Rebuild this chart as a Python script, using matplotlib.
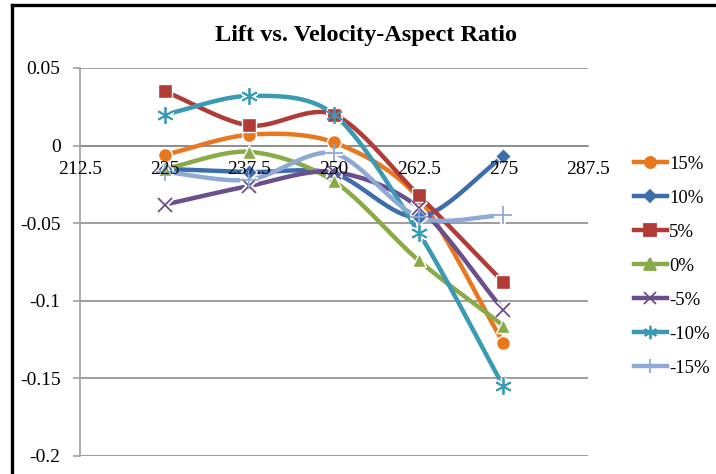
import numpy as np
import matplotlib
matplotlib.use("Agg")
import matplotlib.pyplot as plt
from matplotlib.lines import Line2D

plt.rcParams['font.family'] = ['Liberation Serif', 'DejaVu Serif']

velocity = [225, 237.5, 250, 262.5, 275]
labels = ['15%', '10%', '5%', '0%', '-5%', '-10%', '-15%']
lift_15 = [-0.006, 0.007, 0.002, -0.034, -0.127]
lift_10 = [-0.015, -0.017, -0.018, -0.046, -0.007]
lift_5 = [0.035, 0.013, 0.020, -0.032, -0.088]
lift_0 = [-0.015, -0.004, -0.023, -0.074, -0.116]
lift_m5 = [-0.038, -0.026, -0.017, -0.040, -0.106]
lift_m10 = [0.020, 0.032, 0.020, -0.056, -0.155]
lift_m15 = [-0.017, -0.022, -0.005, -0.046, -0.045]

series = [lift_15, lift_10, lift_5, lift_0, lift_m5, lift_m10, lift_m15]
colors = ['#E8781F', '#3D6DAD', '#B13B37', '#89AA46', '#6A4E8D', '#3A9AB4', '#8DA9D4']
markers = ['o', 'D', 's', '^', 'x', (6, 2, 0), '+']
msizes = [10, 8, 10, 10, 10, 12, 13]


def smooth(x, y, n=30):
    # catmull-rom style curve like excel's smoothed lines
    x = np.asarray(x, float)
    y = np.asarray(y, float)
    px = np.concatenate([[2 * x[0] - x[1]], x, [2 * x[-1] - x[-2]]])
    py = np.concatenate([[2 * y[0] - y[1]], y, [2 * y[-1] - y[-2]]])
    xs, ys = [], []
    t = np.linspace(0, 1, n)
    for i in range(1, len(px) - 2):
        for arr, out in ((px, xs), (py, ys)):
            p0, p1, p2, p3 = arr[i - 1], arr[i], arr[i + 1], arr[i + 2]
            m1 = (p2 - p0) / 2 * 0.9
            m2 = (p3 - p1) / 2 * 0.9
            h00 = 2 * t**3 - 3 * t**2 + 1
            h10 = t**3 - 2 * t**2 + t
            h01 = -2 * t**3 + 3 * t**2
            h11 = t**3 - t**2
            out.extend(h00 * p1 + h10 * m1 + h01 * p2 + h11 * m2)
    return xs, ys


fig = plt.figure(figsize=(7.16, 4.74), dpi=100)
ax = fig.add_axes([80 / 716, 1 - 456 / 474, 508 / 716, 388 / 474])

yticks = [0.05, 0, -0.05, -0.1, -0.15, -0.2]
for yv in yticks:
    ax.axhline(yv, color='#8C8C8C', lw=1.2, zorder=1)

handles = []
for vals, c, m, ms, lab in zip(series, colors, markers, msizes, labels):
    sx, sy = smooth(velocity, vals)
    ax.plot(sx, sy, color=c, lw=3.2, solid_capstyle='round', zorder=3)
    if m in ('x', '+', (6, 2, 0)):
        ax.plot(velocity, vals, linestyle='none', marker=m, ms=ms, mfc=c, mec='white',
                mew=4, zorder=4)
        ax.plot(velocity, vals, linestyle='none', marker=m, ms=ms, mfc=c, mec=c,
                mew=1.3, zorder=5)
    else:
        ax.plot(velocity, vals, linestyle='none', marker=m, ms=ms, mfc=c, mec='white',
                mew=1.0, zorder=5)
    handles.append(Line2D([], [], color=c, lw=3.2, marker=m, ms=ms * 0.8, mfc=c, mec=c,
                          mew=1.3, label=lab))

ax.set_xlim(212.5, 287.5)
ax.set_ylim(-0.2, 0.05)
ax.set_xticks([212.5, 225, 237.5, 250, 262.5, 275, 287.5])
ax.set_xticklabels(['212.5', '225', '237.5', '250', '262.5', '275', '287.5'])
ax.set_yticks(yticks)
ax.set_yticklabels(['0.05', '0', '-0.05', '-0.1', '-0.15', '-0.2'])
for s in ['top', 'right']:
    ax.spines[s].set_visible(False)
ax.spines['bottom'].set_position(('data', 0))
ax.spines['bottom'].set_color('#8C8C8C')
ax.spines['bottom'].set_linewidth(1.2)
ax.spines['bottom'].set_zorder(1)
ax.spines['left'].set_color('#A0A0A0')
ax.spines['left'].set_linewidth(1.2)
ax.tick_params(axis='x', length=0, pad=11, labelsize=14)
ax.tick_params(axis='y', length=5, width=1.2, color='#A0A0A0', pad=9, labelsize=14)
# x labels sit on top of the curves, like the original
ax.xaxis.set_zorder(6)

fig.text(366 / 716, 1 - 36 / 474, 'Lift vs. Velocity-Aspect Ratio', fontsize=17.5,
         fontweight='bold', ha='center', va='center')

fig.legend(handles=handles, loc='center left', bbox_to_anchor=(626 / 716, 1 - 266 / 474),
           frameon=False, fontsize=13.5, handlelength=1.8, handletextpad=0.1,
           labelspacing=0.9, borderaxespad=0)

# outer chart border
fig.add_artist(Line2D([12 / 716, 12 / 716], [0, 1 - 5 / 474], transform=fig.transFigure,
                      color='black', lw=2.4))
fig.add_artist(Line2D([12 / 716, 1], [1 - 5 / 474, 1 - 5 / 474], transform=fig.transFigure,
                      color='black', lw=2.4))

fig.savefig('out.png', dpi=100)
